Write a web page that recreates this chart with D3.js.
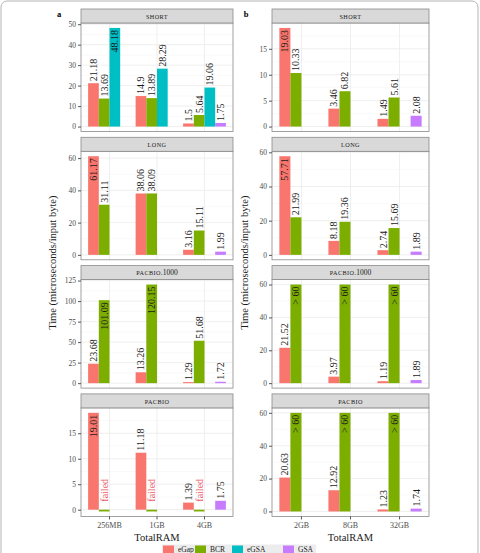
<!DOCTYPE html>
<html>
<head>
<meta charset="utf-8">
<script src="https://cdn.jsdelivr.net/npm/d3@7"></script>
<style>
  body { margin: 0; background: #fff; }
  svg { display: block; font-family: "Liberation Serif", "DejaVu Serif", serif; }
</style>
</head>
<body>
<div id="chart"></div>
<script>
// Tools (legend) and colours
const tools = ["eGap", "BCR", "eGSA", "GSA"];
const toolColors = ["#F8766D", "#7CAE00", "#00BFC4", "#C77CFF"];

// Facet rows and x categories
const datasets = ["short", "long", "pacbio.1000", "pacbio"];
const ramA = ["256MB", "1GB", "4GB"];
const ramB = ["2GB", "8GB", "32GB"];

// Values per tool (rows) and TotalRAM (columns); "failed" / ">60" are special
const aShort = [[21.18, 14.9, 1.5], [13.69, 13.89, 5.64], [48.18, 28.29, 19.06], [null, null, 1.75]];
const aLong = [[61.17, 38.06, 3.16], [31.11, 38.09, 15.11], [null, null, null], [null, null, 1.99]];
const aPacbio1000 = [[23.68, 13.26, 1.29], [101.09, 120.15, 51.68], [null, null, null], [null, null, 1.72]];
const aPacbio = [[19.01, 11.18, 1.39], ["failed", "failed", "failed"], [null, null, null], [null, null, 1.75]];

const bShort = [[19.03, 3.46, 1.49], [10.33, 6.82, 5.61], [null, null, null], [null, null, 2.08]];
const bLong = [[57.71, 8.18, 2.74], [21.99, 19.36, 15.69], [null, null, null], [null, null, 1.89]];
const bPacbio1000 = [[21.52, 3.97, 1.19], [">60", ">60", ">60"], [null, null, null], [null, null, 1.89]];
const bPacbio = [[20.63, 12.92, 1.23], [">60", ">60", ">60"], [null, null, null], [null, null, 1.74]];

// Bar heights used for the special entries
const failedValue = -0.35;
const capValue = 60;

// Y tick labels per facet
const yTicksA = [[0, 10, 20, 30, 40, 50], [0, 20, 40, 60], [0, 25, 50, 75, 100, 125], [0, 5, 10, 15]];
const yTicksB = [[0, 5, 10, 15], [0, 20, 40, 60], [0, 20, 40, 60], [0, 20, 40, 60]];

const W = 480, H = 553;
const svg = d3.select('#chart').append('svg')
    .attr('width', W)
    .attr('height', H);

// outer frame
svg.append('rect')
    .attr('x', 1).attr('y', 1)
    .attr('width', W - 3).attr('height', H + 20)
    .attr('rx', 6)
    .attr('fill', 'none')
    .attr('stroke', '#b5b5b5')
    .attr('stroke-width', 1);

const stripTop0 = 9, rowStep = 128.3, stripH = 14, panelH = 108.5;

function barValue(v) {
    if (v === 'failed') return failedValue;
    if (v === '>60') return capValue;
    return v;
}
function labelText(v) {
    if (v === 'failed') return 'failed';
    if (v === '>60') return '> 60';
    return String(v);
}

// fake small caps: letters upper-cased at a smaller size, digits normal
function smallCaps(textSel, label, big, small) {
    const parts = label.match(/[a-z]+|[^a-z]+/g);
    parts.forEach(p => {
        const isLetters = /[a-z]/.test(p);
        textSel.append('tspan')
            .attr('font-size', isLetters ? small : big)
            .attr('letter-spacing', isLetters ? 0.4 : 0)
            .text(isLetters ? p.toUpperCase() : p);
    });
}

function drawPanel(x0, x1, row, cats, series, ticks, showX) {
    const top = stripTop0 + row * rowStep;
    const pTop = top + stripH;
    const pBot = pTop + panelH;
    const g = svg.append('g');

    const vals = [];
    series.forEach(s => s.forEach(v => { if (v !== null) vals.push(barValue(v)); }));
    const lo = Math.min(0, d3.min(vals)), hi = d3.max(vals);
    const pad = (hi - lo) * 0.05;
    const y = d3.scaleLinear().domain([lo - pad, hi + pad]).range([pBot, pTop]);

    const x = d3.scaleBand().domain(cats).range([x0, x1])
        .paddingInner(0.1).paddingOuter(0.15);
    const xTool = d3.scaleBand().domain(tools).range([0, x.bandwidth()]);

    // panel background
    g.append('rect')
        .attr('x', x0).attr('y', pTop)
        .attr('width', x1 - x0).attr('height', pBot - pTop)
        .attr('fill', '#fff');

    // minor grid
    const step = ticks[1] - ticks[0];
    const minor = [];
    ticks.forEach(t => { if (t + step / 2 < y.domain()[1]) minor.push(t + step / 2); });
    if (ticks[0] - step / 2 > y.domain()[0]) minor.push(ticks[0] - step / 2);
    g.selectAll('.minor').data(minor).enter().append('line')
        .attr('x1', x0).attr('x2', x1)
        .attr('y1', d => y(d)).attr('y2', d => y(d))
        .attr('stroke', '#f2f2f2').attr('stroke-width', 0.5);

    // major grid
    g.selectAll('.major').data(ticks).enter().append('line')
        .attr('x1', x0).attr('x2', x1)
        .attr('y1', d => y(d)).attr('y2', d => y(d))
        .attr('stroke', '#ebebeb').attr('stroke-width', 0.8);
    g.selectAll('.vmajor').data(cats).enter().append('line')
        .attr('x1', d => x(d) + x.bandwidth() / 2).attr('x2', d => x(d) + x.bandwidth() / 2)
        .attr('y1', pTop).attr('y2', pBot)
        .attr('stroke', '#ebebeb').attr('stroke-width', 0.8);

    // bars and labels
    const items = [];
    series.forEach((s, ti) => s.forEach((v, ci) => {
        if (v === null) return;
        items.push({ tool: tools[ti], color: toolColors[ti], cat: cats[ci], raw: v, value: barValue(v) });
    }));

    g.selectAll('.bar').data(items).enter().append('rect')
        .attr('x', d => x(d.cat) + xTool(d.tool))
        .attr('width', xTool.bandwidth())
        .attr('y', d => y(Math.max(0, d.value)))
        .attr('height', d => Math.abs(y(0) - y(d.value)))
        .attr('fill', d => d.color);

    items.forEach(d => {
        const cx = x(d.cat) + xTool(d.tool) + xTool.bandwidth() / 2;
        const t = g.append('text')
            .attr('font-size', 10)
            .attr('dy', '0.35em')
            .attr('fill', d.raw === 'failed' ? '#ea5a68' : '#1a1a1a')
            .text(labelText(d.raw));
        const len = t.node().getComputedTextLength();
        let ty, anchor;
        if (d.raw === 'failed') {
            ty = y(0) - 8; anchor = 'start';
        } else if (y(d.value) - 2 - len < pTop + 1) {
            ty = y(d.value) + 2; anchor = 'end';
        } else {
            ty = y(d.value) - 2; anchor = 'start';
        }
        t.attr('text-anchor', anchor)
            .attr('transform', `translate(${cx},${ty}) rotate(-90)`);
    });

    // border
    g.append('rect')
        .attr('x', x0).attr('y', pTop)
        .attr('width', x1 - x0).attr('height', pBot - pTop)
        .attr('fill', 'none').attr('stroke', '#8a8a8a').attr('stroke-width', 0.8);

    // strip
    g.append('rect')
        .attr('x', x0).attr('y', top)
        .attr('width', x1 - x0).attr('height', stripH)
        .attr('fill', '#d9d9d9').attr('stroke', '#8a8a8a').attr('stroke-width', 0.8);
    const st = g.append('text')
        .attr('x', (x0 + x1) / 2).attr('y', top + stripH / 2 + 2.6)
        .attr('text-anchor', 'middle')
        .attr('fill', '#1a1a1a');
    smallCaps(st, datasets[row], 7.5, 6.2);

    // y axis
    const yAxis = d3.axisLeft(y).tickValues(ticks).tickSize(3).tickPadding(2);
    const ya = g.append('g').attr('transform', `translate(${x0},0)`).call(yAxis);
    ya.select('.domain').remove();
    ya.selectAll('line').attr('stroke', '#555');
    ya.selectAll('text').attr('font-size', 7.5).attr('fill', '#4d4d4d')
        .style('font-family', '"Liberation Serif", serif');

    if (showX) {
        const xAxis = d3.axisBottom(x).tickSize(3).tickPadding(3);
        const xa = g.append('g').attr('transform', `translate(0,${pBot})`).call(xAxis);
        xa.select('.domain').remove();
        xa.selectAll('line').attr('stroke', '#555');
        xa.selectAll('text').attr('font-size', 8).attr('fill', '#4d4d4d')
            .style('font-family', '"Liberation Serif", serif');
    }
}

const dataA = [aShort, aLong, aPacbio1000, aPacbio];
const dataB = [bShort, bLong, bPacbio1000, bPacbio];

dataA.forEach((s, i) => drawPanel(81, 233, i, ramA, s, yTicksA[i], i === 3));
dataB.forEach((s, i) => drawPanel(272, 429, i, ramB, s, yTicksB[i], i === 3));

// axis titles
const midY = (stripTop0 + 3 * rowStep + stripH + panelH + stripTop0) / 2;
[56, 248].forEach(tx => {
    svg.append('text')
        .attr('transform', `translate(${tx},${midY}) rotate(-90)`)
        .attr('text-anchor', 'middle')
        .attr('font-size', 10.5)
        .attr('fill', '#1a1a1a')
        .text('Time (microseconds/input byte)');
});
[157, 350.5].forEach(tx => {
    svg.append('text')
        .attr('x', tx).attr('y', 541)
        .attr('text-anchor', 'middle')
        .attr('font-size', 10.5)
        .attr('fill', '#1a1a1a')
        .text('TotalRAM');
});

// panel letters
svg.append('text').attr('x', 59).attr('y', 17).attr('font-size', 8.5)
    .attr('font-weight', 'bold').attr('text-anchor', 'middle').text('a');
svg.append('text').attr('x', 246).attr('y', 17).attr('font-size', 8.5)
    .attr('font-weight', 'bold').attr('text-anchor', 'middle').text('b');

// legend along the bottom edge
const legend = svg.append('g');
legend.append('rect')
    .attr('x', 162).attr('y', 544.5)
    .attr('width', 154).attr('height', 9)
    .attr('fill', '#ececec');
const legendX = [163, 195, 232, 283];
tools.forEach((t, i) => {
    legend.append('rect')
        .attr('x', legendX[i]).attr('y', 545.5)
        .attr('width', 11).attr('height', 8)
        .attr('fill', toolColors[i]);
    legend.append('text')
        .attr('x', legendX[i] + 15).attr('y', 551.5)
        .attr('font-size', 7.5)
        .attr('fill', '#1a1a1a')
        .text(t);
});
</script>
</body>
</html>
